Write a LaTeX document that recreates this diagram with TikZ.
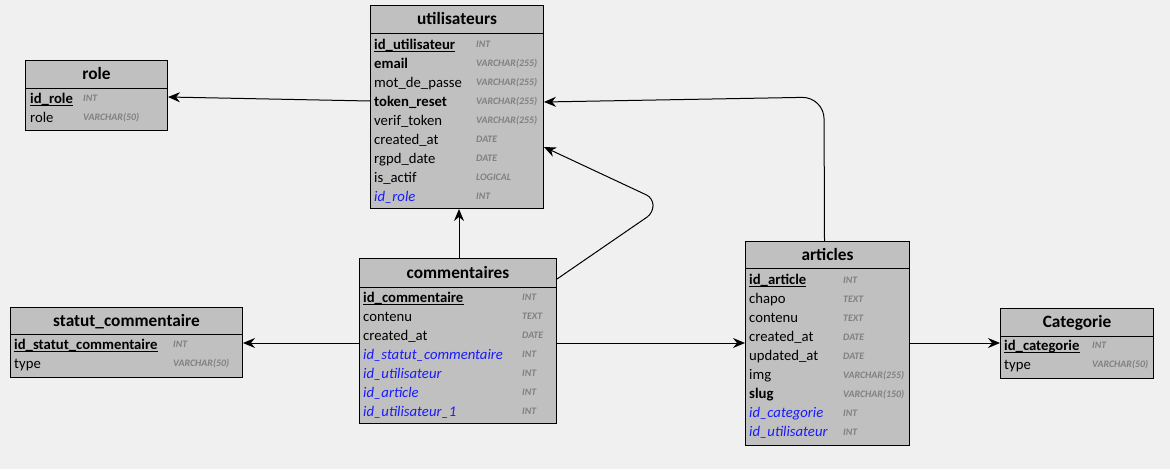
\documentclass[tikz,border=0pt]{standalone}
\usepackage{fontspec}
\setmainfont{Carlito}
\usetikzlibrary{arrows.meta,calc}
\definecolor{bg}{HTML}{F0F0F0}
\definecolor{tbl}{HTML}{C0C0C0}
\definecolor{typc}{HTML}{808080}
\definecolor{fkc}{HTML}{1A1AFF}
\newcommand\rowfont{\fontsize{14.7}{17}\selectfont}
\newcommand\ttlfont{\fontsize{17.3}{20}\selectfont\bfseries}
\newcommand\typfont{\fontsize{9.9}{11}\selectfont\bfseries\itshape}
\tikzset{
  tbox/.style={draw=black, fill=tbl, line width=1pt, inner sep=0pt, anchor=north west},
  hline/.style={draw=black, line width=1pt},
  ttl/.style={font=\ttlfont, anchor=base, inner sep=0pt},
  fld/.style={font=\rowfont, anchor=base west, inner sep=0pt, text=black},
  bfld/.style={font=\rowfont\bfseries, anchor=base west, inner sep=0pt, text=black},
  pk/.style={font=\rowfont\bfseries, anchor=base west, inner sep=0pt, text=black},
  fk/.style={font=\rowfont\itshape, anchor=base west, inner sep=0pt, text=fkc},
  typstyle/.style={font=\typfont, anchor=base west, inner sep=0pt, text=typc},
  uline/.style={draw=black, line width=1pt},
  conn/.style={draw=black, line width=1pt, -{Stealth[length=12pt, width=10pt, inset=4pt]}}
}
% #1 prefix, #2 x text, #3 x type, #4 first row centre y, #5 list
\newcommand\dbrows[5]{%
  \foreach \n/\ty/\s [count=\i] in {#5} {
    \node[\s] (#1-\i) at (#2,{#4+19*(\i-1)+5}) {\n};
    \node[typstyle] (#1-\i-t) at (#3,{#4+19*(\i-1)+3.5}) {\ty};
  }%
}
\begin{document}
\begin{tikzpicture}[x=1pt,y=-1pt]
\useasboundingbox[fill=bg] (0,0) rectangle (1170,469);

% utilisateurs
\node[tbox, minimum width=173pt, minimum height=203pt] (u) at (370,5) {};
\draw[hline] ($(u.north west)+(0,28)$) -- ($(u.north east)+(0,28)$);
\node[ttl] (u-title) at ($(u.north)+(0,19.5)$) {utilisateurs};
\dbrows{u}{374}{476}{44}{id\_utilisateur/INT/pk, email/VARCHAR(255)/bfld, mot\_de\_passe/VARCHAR(255)/fld, token\_reset/VARCHAR(255)/bfld, verif\_token/VARCHAR(255)/fld, created\_at/DATE/fld, rgpd\_date/DATE/fld, is\_actif/LOGICAL/fld, id\_role/INT/fk}
\draw[uline] ($(u-1.base west)+(0,2)$) -- ($(u-1.base east)+(0,2)$);

% role
\node[tbox, minimum width=142pt, minimum height=70pt] (r) at (25,60) {};
\draw[hline] ($(r.north west)+(0,28)$) -- ($(r.north east)+(0,28)$);
\node[ttl] (r-title) at ($(r.north)+(0,19.5)$) {role};
\dbrows{r}{30}{83}{98}{id\_role/INT/pk, role/VARCHAR(50)/fld}
\draw[uline] ($(r-1.base west)+(0,2)$) -- ($(r-1.base east)+(0,2)$);

% statut_commentaire
\node[tbox, minimum width=232pt, minimum height=70pt] (s) at (10,307) {};
\draw[hline] ($(s.north west)+(0,27)$) -- ($(s.north east)+(0,27)$);
\node[ttl] (s-title) at ($(s.north)+(0,19)$) {statut\_commentaire};
\dbrows{s}{14}{173}{344}{id\_statut\_commentaire/INT/pk, type/VARCHAR(50)/fld}
\draw[uline] ($(s-1.base west)+(0,2)$) -- ($(s-1.base east)+(0,2)$);

% commentaires
\node[tbox, minimum width=197pt, minimum height=165pt] (c) at (359,258) {};
\draw[hline] ($(c.north west)+(0,29)$) -- ($(c.north east)+(0,29)$);
\node[ttl] (c-title) at ($(c.north)+(0,20)$) {commentaires};
\dbrows{c}{363}{522}{297}{id\_commentaire/INT/pk, contenu/TEXT/fld, created\_at/DATE/fld, id\_statut\_commentaire/INT/fk, id\_utilisateur/INT/fk, id\_article/INT/fk, id\_utilisateur\_1/INT/fk}
\draw[uline] ($(c-1.base west)+(0,2)$) -- ($(c-1.base east)+(0,2)$);

% articles
\node[tbox, minimum width=164pt, minimum height=204pt] (a) at (745,241) {};
\draw[hline] ($(a.north west)+(0,27)$) -- ($(a.north east)+(0,27)$);
\node[ttl] (a-title) at ($(a.north)+(0,19)$) {articles};
\dbrows{a}{749}{843}{279.5}{id\_article/INT/pk, chapo/TEXT/fld, contenu/TEXT/fld, created\_at/DATE/fld, updated\_at/DATE/fld, img/VARCHAR(255)/fld, slug/VARCHAR(150)/bfld, id\_categorie/INT/fk, id\_utilisateur/INT/fk}
\draw[uline] ($(a-1.base west)+(0,2)$) -- ($(a-1.base east)+(0,2)$);

% Categorie
\node[tbox, minimum width=153pt, minimum height=70pt] (k) at (1000,308) {};
\draw[hline] ($(k.north west)+(0,28)$) -- ($(k.north east)+(0,28)$);
\node[ttl] (k-title) at ($(k.north)+(0,19.5)$) {Categorie};
\dbrows{k}{1004}{1092}{345}{id\_categorie/INT/pk, type/VARCHAR(50)/fld}
\draw[uline] ($(k-1.base west)+(0,2)$) -- ($(k-1.base east)+(0,2)$);

% bend points
\coordinate (b1) at (653,213);
\coordinate (b2) at (653,198);
\coordinate (b3) at (824,97);

% connectors
\draw[conn] ($(u.north west)+(0,96)$) -- ($(r.north east)+(0,37)$);
\draw[conn] ($(c.north)+(1,0)$) -- ($(u.south)+(2,0)$);
\draw[conn, rounded corners=7pt] ($(c.north east)+(0,21)$) -- (b1) -- (b2) -- ($(u.north east)+(0,142)$);
\draw[conn, rounded corners=22pt] ($(a.north)+(-3,0)$) -- (b3) -- ($(u.north east)+(0,97)$);
\draw[conn] ($(c.north east)+(0,85)$) -- ($(a.north west)+(0,102)$);
\draw[conn] ($(a.north east)+(0,102)$) -- ($(k.north west)+(0,35)$);
\draw[conn] ($(c.north west)+(0,85)$) -- ($(s.north east)+(0,36)$);
\end{tikzpicture}
\end{document}
